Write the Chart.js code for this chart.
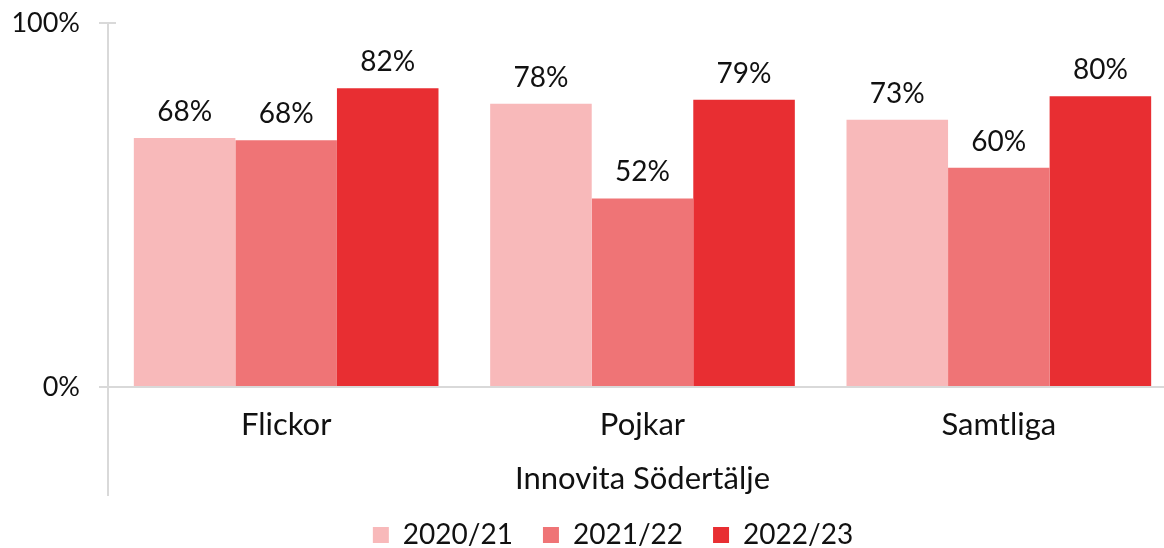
<!DOCTYPE html>
<html><head><meta charset="utf-8">
<script src="https://cdn.jsdelivr.net/npm/chart.js@4.4.1/dist/chart.umd.min.js"></script>
<style>
html,body{margin:0;padding:0;overflow:hidden;background:#fff;width:1164px;height:548px}
#wrap{width:1226px;height:548px;position:relative}
</style></head>
<body><div id="wrap"><canvas id="c"></canvas></div>
<script>
const categories = ['Flickor', 'Pojkar', 'Samtliga'];
const seriesNames = ['2020/21', '2021/22', '2022/23'];
const s2020 = [68.4, 77.8, 73.4];
const s2021 = [67.8, 51.8, 60.2];
const s2022 = [82.1, 78.9, 79.9];
const yTickValues = [0, 100];
const xTitle = 'Innovita Södertälje';

const colors = ['#F8B9BA', '#EF7476', '#E82E32'];
const FONT = 'Lato, "Open Sans", sans-serif';
const TXT = '#111';
const AX = '#D9D9D9';

const extras = {
  id: 'extras',
  afterDatasetsDraw(chart) {
    const ctx = chart.ctx;
    ctx.save();
    ctx.fillStyle = TXT;
    ctx.font = '28px ' + FONT;
    ctx.textAlign = 'center';
    ctx.textBaseline = 'alphabetic';
    chart.data.datasets.forEach((ds, i) => {
      const meta = chart.getDatasetMeta(i);
      meta.data.forEach((bar, j) => {
        ctx.fillText(Math.round(ds.data[j]) + '%', bar.x, bar.y - 17);
      });
    });
    ctx.restore();
  },
  afterDraw(chart) {
    const ctx = chart.ctx, a = chart.chartArea, y = chart.scales.y;
    ctx.save();
    ctx.strokeStyle = AX;
    ctx.lineWidth = 2;
    ctx.beginPath();
    ctx.moveTo(a.left, a.bottom);
    ctx.lineTo(a.left, chart.legend.top + 5);
    const yt = y.getPixelForValue(100);
    ctx.moveTo(a.left, yt);
    ctx.lineTo(a.left + 8, yt);
    ctx.stroke();
    ctx.restore();
  }
};

new Chart(document.getElementById('c'), {
  type: 'bar',
  data: {
    labels: categories,
    datasets: [
      { label: seriesNames[0], data: s2020, backgroundColor: colors[0] },
      { label: seriesNames[1], data: s2021, backgroundColor: colors[1] },
      { label: seriesNames[2], data: s2022, backgroundColor: colors[2] }
    ]
  },
  options: {
    responsive: true,
    maintainAspectRatio: false,
    animation: false,
    layout: { padding: { top: 23, left: 0, right: 0, bottom: -11 } },
    datasets: { bar: { categoryPercentage: 0.855, barPercentage: 1.0 } },
    plugins: {
      legend: {
        position: 'bottom',
        labels: {
          font: { family: FONT, size: 28 },
          color: TXT,
          boxWidth: 16,
          boxHeight: 16,
          padding: 30
        }
      },
      tooltip: { enabled: false }
    },
    scales: {
      x: {
        afterFit(s) { s.height = 104; },
        grid: { display: false, drawTicks: false },
        border: { display: true, color: AX, width: 2 },
        ticks: { font: { family: FONT, size: 31, lineHeight: 1 }, color: TXT, padding: 22 },
        title: { display: true, text: xTitle, font: { family: FONT, size: 31, lineHeight: 1 }, color: TXT, padding: { top: 22, bottom: -3 } }
      },
      y: {
        min: 0, max: 100,
        afterBuildTicks(s) { s.ticks = yTickValues.map(v => ({ value: v })); },
        afterFit(s) { s.width = 108; s.paddingTop = 0; s.paddingBottom = 0; },
        grid: { drawOnChartArea: false, color: AX, lineWidth: 2, tickLength: 9 },
        border: { display: true, color: AX, width: 2 },
        ticks: { font: { family: FONT, size: 27 }, color: TXT, padding: 19, callback: v => v + '%' }
      },
      yR: {
        position: 'right',
        display: true,
        grid: { display: false },
        border: { display: false },
        ticks: { display: false },
        afterFit(s) { s.width = 49; s.paddingTop = 0; s.paddingBottom = 0; }
      }
    }
  },
  plugins: [extras]
});
</script></body></html>
